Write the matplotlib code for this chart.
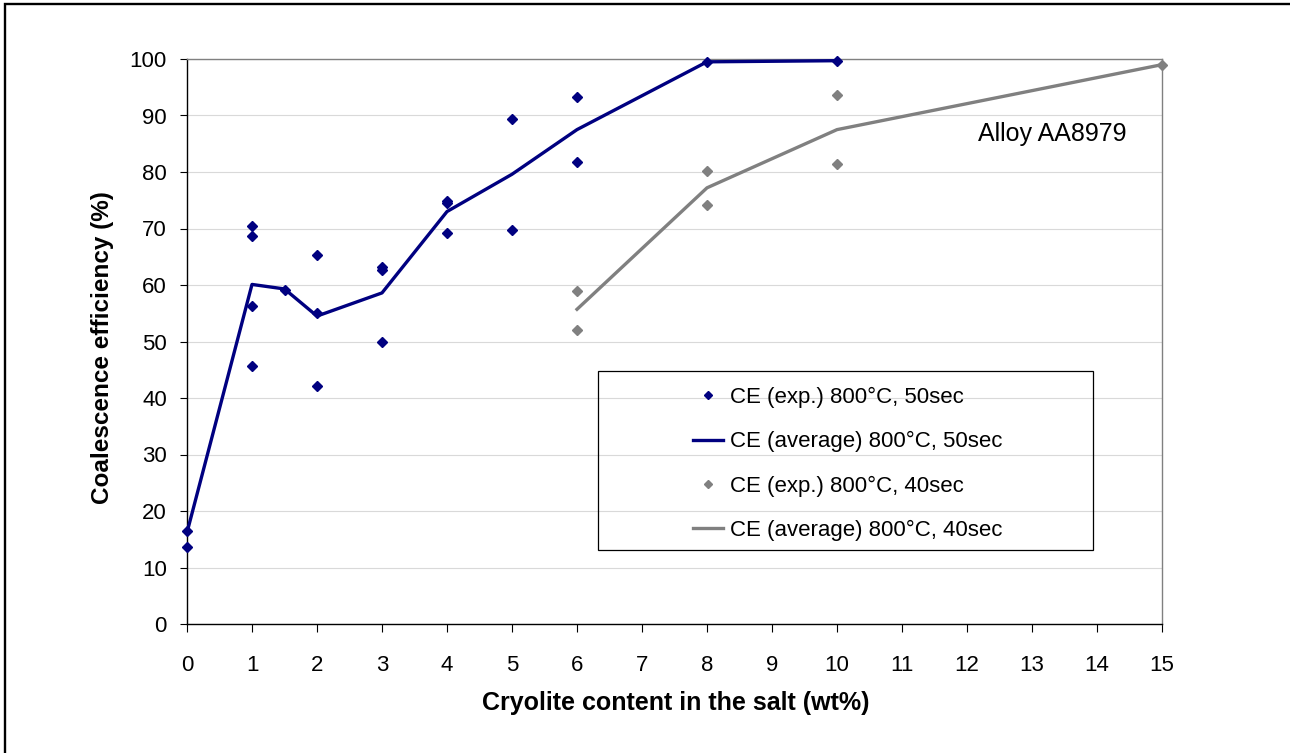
import matplotlib
matplotlib.use("Agg")
import matplotlib.pyplot as plt
from matplotlib.patches import Rectangle
from matplotlib.lines import Line2D

plt.rcParams['font.family'] = ['Liberation Sans', 'DejaVu Sans']

# ---- data ----
exp50_x = [0, 0, 1, 1, 1, 1, 1.5, 2, 2, 2, 3, 3, 3, 4, 4, 4, 5, 5, 6, 6, 8, 10]
exp50_y = [16.5, 13.7, 70.5, 68.6, 56.3, 45.7, 59.2, 65.3, 55.0, 42.2, 63.1, 62.7, 49.9,
           74.8, 74.5, 69.2, 89.4, 69.7, 93.3, 81.8, 99.5, 99.7]
avg50_x = [0, 1, 1.5, 2, 3, 4, 5, 6, 8, 10]
avg50_y = [16.2, 60.1, 59.3, 54.5, 58.6, 73.0, 79.6, 87.5, 99.5, 99.7]
exp40_x = [6, 6, 8, 8, 10, 10, 15]
exp40_y = [59.0, 52.1, 80.2, 74.1, 93.7, 81.5, 99.0]
avg40_x = [6, 8, 10, 15]
avg40_y = [55.7, 77.2, 87.5, 99.0]
x_ticks = list(range(0, 16))
y_ticks = list(range(0, 101, 10))
labels = ["CE (exp.) 800°C, 50sec", "CE (average) 800°C, 50sec",
          "CE (exp.) 800°C, 40sec", "CE (average) 800°C, 40sec"]

NAVY = "#000080"
GRAY = "#808080"

W, H = 1290, 753
fig = plt.figure(figsize=(W / 100, H / 100), dpi=100)
fig.patch.set_facecolor("white")

# outer frame (top/left visible, right/bottom cropped)
fig.add_artist(Rectangle((5 / W, -0.05), 1.2, 1 - 4 / H + 0.05, transform=fig.transFigure,
                         fill=False, edgecolor="black", linewidth=1.7))

ax = fig.add_axes([187 / W, 1 - 624 / H, 975 / W, 565 / H])
ax.set_xlim(0, 15)
ax.set_ylim(0, 100)

ax.set_yticks(y_ticks)
ax.set_xticks(x_ticks)
ax.grid(axis="y", color="#d9d9d9", linewidth=0.8)
ax.set_axisbelow(True)

for s in ["left", "bottom"]:
    ax.spines[s].set_color("black")
    ax.spines[s].set_linewidth(1.0)
for s in ["top", "right"]:
    ax.spines[s].set_color(GRAY)
    ax.spines[s].set_linewidth(1.0)

ax.tick_params(axis="y", direction="out", length=5, width=0.8, pad=9.5, labelsize=16)
ax.tick_params(axis="x", direction="out", length=6, width=0.8, pad=16, labelsize=16)

ms = 5.4
ax.plot(exp50_x, exp50_y, linestyle="none", marker="D", color=NAVY, markersize=ms,
        clip_on=False, zorder=3)
ax.plot(avg50_x, avg50_y, color=NAVY, linewidth=2.4, clip_on=False, zorder=4)
ax.plot(exp40_x, exp40_y, linestyle="none", marker="D", color=GRAY, markersize=ms,
        clip_on=False, zorder=3)
ax.plot(avg40_x, avg40_y, color=GRAY, linewidth=2.4, clip_on=False, zorder=4)

ax.set_xlabel("Cryolite content in the salt (wt%)", fontsize=18, fontweight="bold")
ax.set_ylabel("Coalescence efficiency (%)", fontsize=17.5, fontweight="bold")
ax.xaxis.set_label_coords((676 - 187) / 975, (624 - 691) / 565)
ax.yaxis.set_label_coords((114 - 187) / 975, 0.49)

ax.text((978 - 187) / 975, (624 - 141) / 565, "Alloy AA8979", transform=ax.transAxes,
        fontsize=18, ha="left", va="baseline")

# legend box
fig.add_artist(Rectangle((598 / W, 1 - 550 / H), (1093 - 598) / W, (550 - 371) / H,
                         transform=fig.transFigure, fill=False, edgecolor="black",
                         linewidth=0.9, zorder=5))
handles = [
    Line2D([], [], linestyle="none", marker="D", color=NAVY, markersize=ms * 0.7),
    Line2D([], [], color=NAVY, linewidth=2.4),
    Line2D([], [], linestyle="none", marker="D", color=GRAY, markersize=ms * 0.7),
    Line2D([], [], color=GRAY, linewidth=2.4),
]
leg = fig.legend(handles, labels, loc="upper left",
                 bbox_to_anchor=(693 / W, 1 - 387 / H), frameon=False,
                 fontsize=16, handlelength=1.36, handletextpad=0.32,
                 labelspacing=1.04, borderpad=0, borderaxespad=0)

fig.savefig("out.png", dpi=100)
